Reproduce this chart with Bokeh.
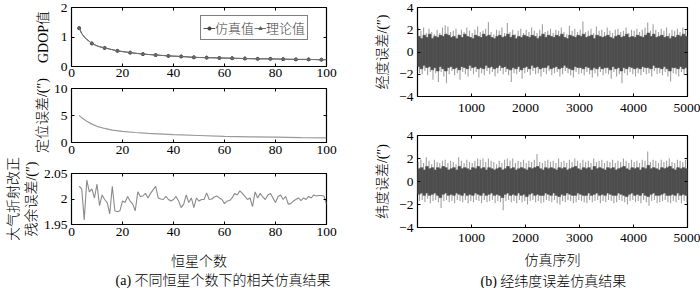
from bokeh.plotting import figure
from bokeh.layouts import row, column
from bokeh.models import (FixedTicker, LinearAxis, Range1d, Legend, LegendItem, Title)
from bokeh.embed import file_html
from bokeh.resources import INLINE

# ---------------- data ----------------
# (a) panel 1: GDOP vs number of stars
gdop_line_n = [3, 4, 5, 6, 7, 8, 9, 10, 11, 12, 13, 15, 18, 23, 28, 33, 38, 43, 48, 53, 58, 63, 68, 73, 78, 83, 88, 93, 98, 100]
gdop_line_v = [1.30, 1.12, 1.00, 0.92, 0.85, 0.78, 0.74, 0.70, 0.67, 0.65, 0.63, 0.59, 0.53, 0.47, 0.42, 0.39, 0.36, 0.34, 0.31, 0.30,
               0.29, 0.28, 0.27, 0.26, 0.26, 0.25, 0.24, 0.24, 0.23, 0.23]
gdop_mark_n = [3, 8, 13, 18, 23, 28, 33, 38, 43, 48, 53, 58, 63, 68, 73, 78, 83, 88, 93, 98]
gdop_sim = [1.30, 0.78, 0.63, 0.53, 0.47, 0.42, 0.39, 0.36, 0.34, 0.31, 0.30, 0.29, 0.28, 0.27, 0.26, 0.26, 0.25, 0.24, 0.24, 0.23]
gdop_theory = [1.30, 0.78, 0.63, 0.53, 0.47, 0.42, 0.39, 0.36, 0.34, 0.31, 0.30, 0.29, 0.28, 0.27, 0.26, 0.26, 0.25, 0.24, 0.24, 0.23]

# (a) panel 2: positioning error
pos_n = [3, 4, 5, 6, 8, 10, 13, 16, 20, 25, 30, 40, 50, 60, 70, 80, 90, 100]
pos_err = [5.0, 4.6, 4.25, 3.95, 3.4, 3.0, 2.6, 2.3, 2.05, 1.85, 1.7, 1.45, 1.3, 1.15, 1.05, 0.98, 0.9, 0.85]

# (a) panel 3: residual refraction error, n = 3..100
ref_n = list(range(3, 101))
ref_err = [2.025, 2.020, 1.959, 2.037, 2.014, 2.020, 2.002, 2.029, 1.987, 2.008,
           1.999, 1.993, 1.971, 2.025, 1.977, 1.975, 1.977, 1.996, 1.993, 2.005,
           1.996, 1.990, 1.977, 2.014, 2.005, 2.006, 2.011, 2.002, 2.011, 2.018,
           2.025, 2.002, 2.000, 1.999, 2.005, 1.999, 1.996, 1.999, 2.005, 1.996,
           1.983, 1.990, 2.008, 1.993, 2.002, 1.983, 2.002, 1.996, 1.999, 1.999,
           2.012, 1.999, 2.000, 2.004, 2.006, 2.002, 1.999, 1.991, 1.996, 1.997,
           2.002, 2.011, 2.008, 2.016, 2.011, 2.005, 1.999, 2.002, 1.985, 2.014,
           2.002, 2.011, 2.004, 1.999, 2.008, 2.011, 2.002, 1.993, 2.005, 2.008,
           1.999, 2.005, 1.990, 1.991, 1.996, 1.999, 2.002, 1.997, 2.002, 1.999,
           2.005, 2.002, 2.008, 2.006, 2.007, 2.007, 2.006, 1.990]

# (b) error envelopes per 50-sample block (peaks = light gray, core = dark gray)
blk_x = list(range(25, 5000, 50))
lon_hi = [2.3, 1.9, 2.2, 1.7, 2.1, 1.8, 1.6, 2.0, 1.7, 2.2,
          2.4, 2.3, 1.8, 1.9, 2.1, 1.6, 2.0, 1.8, 2.2, 1.9,
          1.7, 2.0, 2.3, 1.8, 1.9, 2.1, 2.7, 1.8, 1.6, 2.0,
          1.9, 2.2, 1.7, 2.6, 1.8, 2.0, 1.6, 1.9, 2.1, 1.7,
          2.0, 1.8, 2.2, 1.9, 1.7, 2.0, 2.5, 1.8, 1.9, 2.1,
          1.7, 2.0, 1.9, 2.2, 1.8, 1.6, 2.35, 1.9, 2.1, 1.8,
          2.0, 2.75, 1.8, 1.9, 2.1, 1.7, 2.3, 1.9, 2.0, 1.8,
          2.2, 1.9, 1.7, 2.0, 2.1, 1.8, 1.9, 2.2, 1.7, 2.0,
          1.9, 2.1, 1.8, 2.0, 2.2, 2.65, 1.9, 2.5, 2.0, 1.8,
          2.1, 1.9, 2.2, 1.7, 2.0, 1.9, 2.1, 1.8, 2.2, 2.0]
lon_lo = [-1.9, -2.0, -1.7, -2.1, -1.8, -2.5, -1.9, -2.7, -1.8, -2.2,
          -2.8, -2.0, -1.7, -2.1, -1.9, -2.5, -1.8, -2.0, -2.2, -1.7,
          -2.0, -1.8, -2.3, -1.9, -2.1, -1.7, -2.0, -1.8, -2.2, -1.9,
          -1.7, -2.0, -1.8, -2.1, -2.7, -1.9, -2.0, -1.8, -2.4, -1.9,
          -1.8, -2.1, -1.7, -2.0, -1.9, -2.2, -1.8, -2.0, -1.7, -2.1,
          -1.9, -1.8, -2.2, -2.0, -1.7, -1.9, -2.1, -2.3, -1.8, -2.0,
          -1.9, -2.1, -1.8, -2.0, -2.3, -1.9, -2.2, -1.8, -2.1, -1.9,
          -2.0, -2.4, -1.8, -2.2, -2.0, -2.8, -1.9, -2.1, -1.8, -2.0,
          -2.2, -1.9, -2.1, -1.8, -2.0, -1.9, -2.2, -1.7, -2.0, -1.9,
          -2.1, -1.8, -2.2, -2.65, -1.9, -2.0, -2.2, -1.8, -2.1, -1.9]
lon_core_hi = [1.4, 1.2, 1.5, 1.3, 1.6, 1.2, 1.4, 1.3, 1.5, 1.4,
               1.6, 1.5, 1.3, 1.4, 1.2, 1.5, 1.3, 1.6, 1.4, 1.3,
               1.2, 1.5, 1.4, 1.3, 1.6, 1.4, 1.5, 1.3, 1.2, 1.4,
               1.5, 1.3, 1.4, 1.6, 1.3, 1.5, 1.2, 1.4, 1.3, 1.5,
               1.4, 1.3, 1.5, 1.4, 1.2, 1.4, 1.6, 1.3, 1.5, 1.4,
               1.3, 1.5, 1.4, 1.6, 1.3, 1.2, 1.5, 1.4, 1.3, 1.5,
               1.4, 1.6, 1.3, 1.4, 1.5, 1.2, 1.5, 1.4, 1.3, 1.4,
               1.5, 1.3, 1.2, 1.4, 1.5, 1.3, 1.4, 1.6, 1.3, 1.4,
               1.3, 1.5, 1.4, 1.3, 1.5, 1.7, 1.4, 1.6, 1.3, 1.4,
               1.5, 1.3, 1.4, 1.2, 1.4, 1.3, 1.5, 1.4, 1.6, 1.4]
lon_core_lo = [-1.3, -1.5, -1.2, -1.4, -1.3, -1.6, -1.4, -1.7, -1.3, -1.5,
               -1.7, -1.4, -1.3, -1.5, -1.4, -1.6, -1.3, -1.4, -1.5, -1.2,
               -1.4, -1.3, -1.5, -1.4, -1.5, -1.2, -1.4, -1.3, -1.5, -1.4,
               -1.2, -1.4, -1.3, -1.5, -1.6, -1.4, -1.5, -1.3, -1.6, -1.4,
               -1.3, -1.5, -1.2, -1.4, -1.3, -1.5, -1.4, -1.4, -1.2, -1.5,
               -1.4, -1.3, -1.5, -1.4, -1.2, -1.4, -1.5, -1.6, -1.3, -1.4,
               -1.4, -1.5, -1.3, -1.4, -1.6, -1.4, -1.5, -1.3, -1.5, -1.4,
               -1.4, -1.6, -1.3, -1.5, -1.4, -1.7, -1.4, -1.5, -1.3, -1.4,
               -1.5, -1.4, -1.5, -1.3, -1.4, -1.4, -1.5, -1.2, -1.4, -1.4,
               -1.5, -1.3, -1.5, -1.7, -1.4, -1.4, -1.5, -1.3, -1.5, -1.4]
lat_hi = [1.7, 1.9, 1.6, 2.1, 1.8, 1.5, 1.9, 1.7, 1.6, 1.8,
          1.9, 1.6, 1.8, 1.7, 1.5, 2.1, 1.8, 1.6, 1.9, 1.7,
          1.6, 1.8, 2.0, 1.9, 2.0, 1.7, 2.0, 1.8, 1.7, 1.5,
          1.8, 1.6, 1.9, 2.0, 1.8, 2.0, 1.6, 1.8, 1.7, 1.9,
          1.6, 1.8, 1.7, 1.9, 2.4, 1.7, 1.6, 1.8, 1.9, 1.7,
          1.8, 1.6, 2.0, 1.7, 1.8, 1.6, 1.9, 1.7, 2.0, 1.8,
          1.6, 1.9, 1.7, 1.8, 1.6, 2.0, 1.7, 1.8, 1.9, 1.6,
          1.8, 1.7, 1.9, 1.6, 1.8, 1.7, 2.0, 1.8, 1.6, 1.9,
          1.7, 1.8, 1.6, 1.9, 1.8, 2.6, 1.7, 1.9, 1.8, 1.6,
          1.9, 1.7, 1.8, 2.0, 1.7, 1.6, 1.9, 1.8, 1.7, 1.9]
lat_lo = [-1.7, -1.6, -1.8, -1.5, -1.9, -1.7, -1.6, -1.8, -2.3, -1.7,
          -1.6, -1.8, -1.7, -1.9, -1.6, -1.7, -1.8, -1.6, -1.9, -1.7,
          -1.8, -1.6, -1.7, -1.9, -1.6, -1.8, -1.7, -1.6, -1.9, -1.7,
          -1.8, -2.5, -1.7, -1.6, -1.8, -1.7, -1.9, -1.6, -1.8, -1.7,
          -2.0, -1.7, -1.6, -1.8, -1.7, -1.9, -1.8, -1.6, -1.7, -1.8,
          -1.6, -1.9, -2.0, -1.7, -1.8, -1.6, -1.7, -1.9, -1.8, -1.6,
          -1.7, -1.8, -1.9, -1.6, -1.8, -1.7, -1.6, -1.9, -1.7, -1.8,
          -1.6, -1.7, -1.9, -1.8, -1.6, -1.7, -1.8, -2.0, -1.7, -1.6,
          -1.8, -1.7, -1.9, -1.6, -1.8, -2.1, -1.7, -1.6, -1.9, -1.8,
          -1.7, -1.6, -1.8, -1.9, -1.7, -1.8, -1.6, -1.9, -1.7, -1.8]
lat_core_hi = [1.1, 1.2, 1.0, 1.3, 1.1, 1.2, 1.0, 1.2, 1.1, 1.3,
               1.2, 1.0, 1.1, 1.2, 1.0, 1.3, 1.1, 1.2, 1.1, 1.0,
               1.2, 1.1, 1.3, 1.1, 1.2, 1.0, 1.2, 1.1, 1.0, 1.1,
               1.2, 1.0, 1.1, 1.3, 1.1, 1.2, 1.0, 1.1, 1.2, 1.1,
               1.0, 1.2, 1.1, 1.2, 1.3, 1.1, 1.0, 1.2, 1.1, 1.2,
               1.1, 1.0, 1.2, 1.1, 1.2, 1.0, 1.1, 1.2, 1.3, 1.1,
               1.0, 1.2, 1.1, 1.2, 1.0, 1.3, 1.1, 1.2, 1.1, 1.0,
               1.2, 1.1, 1.2, 1.0, 1.1, 1.2, 1.3, 1.1, 1.0, 1.2,
               1.1, 1.2, 1.0, 1.2, 1.1, 1.4, 1.1, 1.2, 1.1, 1.0,
               1.2, 1.1, 1.2, 1.3, 1.1, 1.0, 1.2, 1.1, 1.2, 1.1]
lat_core_lo = [-1.1, -1.0, -1.2, -1.0, -1.2, -1.1, -1.0, -1.2, -1.4, -1.1,
               -1.0, -1.2, -1.1, -1.2, -1.0, -1.1, -1.2, -1.0, -1.2, -1.1,
               -1.2, -1.0, -1.1, -1.2, -1.0, -1.2, -1.1, -1.0, -1.2, -1.1,
               -1.2, -1.4, -1.1, -1.0, -1.2, -1.1, -1.2, -1.0, -1.2, -1.1,
               -1.3, -1.1, -1.0, -1.2, -1.1, -1.2, -1.2, -1.0, -1.1, -1.2,
               -1.0, -1.2, -1.3, -1.1, -1.2, -1.0, -1.1, -1.2, -1.2, -1.0,
               -1.1, -1.2, -1.2, -1.0, -1.2, -1.1, -1.0, -1.2, -1.1, -1.2,
               -1.0, -1.1, -1.2, -1.2, -1.0, -1.1, -1.2, -1.3, -1.1, -1.0,
               -1.2, -1.1, -1.2, -1.0, -1.2, -1.3, -1.1, -1.0, -1.2, -1.2,
               -1.1, -1.0, -1.2, -1.2, -1.1, -1.2, -1.0, -1.2, -1.1, -1.2]

# tick labels
left_xticks = [0, 20, 40, 60, 80, 100]
p1_yticks = [0, 1, 2]
p2_yticks = [0, 5, 10]
p3_yticks = [1.95, 2.0, 2.05]
p3_ylabels = {1.95: "1.95", 2.0: "2", 2.05: "2.05"}
right_xticks = [1000, 2000, 3000, 4000, 5000]
right_yticks = [-4, -2, 0, 2, 4]
right_ylabels = {-4: "\u22124", -2: "\u22122", 0: "0", 2: "2", 4: "4"}

FONT = "Liberation Serif, Noto Sans CJK SC Light, Noto Sans CJK SC DemiLight, Noto Sans CJK SC"
FS = "13.5px"
LFS = "14px"
DARK = "#4d4d4d"
LIGHT = "#a0a0a0"


def make_fig(w, h, xr, yr, bl, br, bt, bb, margin=None):
    kw = dict(width=w, height=h, x_range=Range1d(*xr), y_range=Range1d(*yr),
              output_backend="svg", toolbar_location=None,
              min_border_left=bl, min_border_right=br,
              min_border_top=bt, min_border_bottom=bb)
    if margin is not None:
        kw["margin"] = margin
    p = figure(**kw)
    p.xgrid.visible = False
    p.ygrid.visible = False
    p.outline_line_color = "black"
    p.outline_line_width = 1.2
    p.outline_line_alpha = 1.0
    p.border_fill_color = None
    p.background_fill_color = "white"
    return p


def blank_axis(ticks, label=None, standoff=0):
    a = LinearAxis(ticker=FixedTicker(ticks=ticks), axis_line_color=None,
                   major_tick_in=3, major_tick_out=0, minor_tick_line_color=None,
                   major_label_text_font_size="0px", major_label_standoff=0,
                   major_label_overrides={t: "" for t in ticks})
    if label:
        a.major_tick_in = 0
        a.axis_label = label
        a.axis_label_standoff = standoff
        a.axis_label_text_font = FONT
        a.axis_label_text_font_size = LFS
        a.axis_label_text_font_style = "normal"
        a.axis_label_text_color = "black"
    return a


def style_axes(p, xt, yt, xlab=None, ylab=None, ylab_over=None, xstand=3,
               xlab_stand=5, ylab_stand=5):
    xa, ya = p.xaxis[0], p.yaxis[0]
    for ax, ticks in ((xa, xt), (ya, yt)):
        ax.ticker = FixedTicker(ticks=ticks)
        ax.axis_line_color = None
        ax.major_tick_in = 3
        ax.major_tick_out = 0
        ax.major_tick_line_color = "black"
        ax.minor_tick_line_color = None
        ax.major_label_text_font = FONT
        ax.major_label_text_font_size = FS
        ax.major_label_text_color = "black"
        ax.axis_label_text_font = FONT
        ax.axis_label_text_font_size = LFS
        ax.axis_label_text_font_style = "normal"
        ax.axis_label_text_color = "black"
    xa.major_label_standoff = xstand
    ya.major_label_standoff = 4
    xa.axis_label_standoff = xlab_stand
    ya.axis_label_standoff = ylab_stand
    if ylab_over:
        ya.major_label_overrides = ylab_over
    if xlab:
        xa.axis_label = xlab
    if ylab:
        ya.axis_label = ylab
    # mirrored ticks on top and right
    p.add_layout(blank_axis(xt), "above")
    p.add_layout(blank_axis(yt), "right")


def caption(p, text, offset, standoff):
    p.add_layout(Title(text=text, align="left", offset=offset,
                       text_font=FONT, text_font_size=LFS, text_font_style="normal",
                       text_color="black", standoff=standoff), "below")


# ---------------- left column ----------------
LW = 340
f1 = make_fig(LW, 84, (0, 100), (0, 2), 71, 14, 7, 18)
style_axes(f1, left_xticks, p1_yticks, ylab="GDOP值", xstand=2, ylab_stand=7)
l1 = f1.line(gdop_line_n, gdop_line_v, line_color="#505050", line_width=1)
m1 = f1.scatter(gdop_mark_n, gdop_sim, marker="circle", size=3, color="#404040")
m2 = f1.scatter(gdop_mark_n, gdop_theory, marker="triangle", size=3, color="#606060")
l2 = f1.line(gdop_line_n, gdop_line_v, line_color="#707070", line_width=1)
leg = Legend(items=[LegendItem(label="仿真值", renderers=[l1, m1]),
                    LegendItem(label="理论值", renderers=[l2, m2])],
             orientation="horizontal", location=(129, 26),
             label_text_font=FONT, label_text_font_size="13px",
             glyph_width=12, glyph_height=8, label_height=10, label_standoff=0,
             spacing=0, padding=2, margin=0,
             border_line_color="black", border_line_width=1,
             background_fill_color="white", background_fill_alpha=1.0)
f1.add_layout(leg, "center")

f2 = make_fig(LW, 82, (0, 100), (0, 10), 71, 14, 10, 18, margin=(-6, 0, 0, 0))
style_axes(f2, left_xticks, p2_yticks, ylab="定位误差/(″)", ylab_stand=1)
f2.line(pos_n, pos_err, line_color="#999999", line_width=1.2)

# canvas starts 8px higher (negative margin) and runs past the page bottom (hidden)
f3 = make_fig(LW, 21 + 51 + 100, (0, 100), (1.95, 2.05), 71, 14, 21, 100, margin=(-8, 0, 0, 0))
style_axes(f3, left_xticks, p3_yticks, xlab="恒星个数", ylab="残余误差/(″)",
           ylab_over=p3_ylabels, xlab_stand=15, ylab_stand=2)
f3.add_layout(blank_axis([], label="大气折射改正", standoff=0), "left")
f3.line(ref_n, ref_err, line_color="#8a8a8a", line_width=1.1)
caption(f3, "(a) 不同恒星个数下的相关仿真结果", 44, -2)

# ---------------- right column ----------------
RW = 700 - LW
f4 = make_fig(RW, 128, (0, 5000), (-4, 4), 77, 13, 7, 32)
style_axes(f4, right_xticks, right_yticks, ylab="经度误差/(″)", ylab_over=right_ylabels,
           xstand=7, ylab_stand=6)
up_x = [x - 12 for x in blk_x]
dn_x = [x + 12 for x in blk_x]
f4.segment(x0=up_x, y0=lon_core_lo, x1=up_x, y1=lon_hi, line_color=LIGHT, line_width=1.1)
f4.segment(x0=dn_x, y0=lon_lo, x1=dn_x, y1=lon_core_hi, line_color=LIGHT, line_width=1.1)
f4.vbar(x=blk_x, width=50, bottom=lon_core_lo, top=lon_core_hi, fill_color=DARK,
        line_color=DARK, line_width=0.6)

f5 = make_fig(RW, 7 + 92 + 100, (0, 5000), (-4, 4), 77, 13, 7, 100)
style_axes(f5, right_xticks, right_yticks, xlab="仿真序列", ylab="纬度误差/(″)",
           ylab_over=right_ylabels, xstand=6, xlab_stand=8, ylab_stand=6)
f5.segment(x0=up_x, y0=lat_core_lo, x1=up_x, y1=lat_hi, line_color=LIGHT, line_width=1.1)
f5.segment(x0=dn_x, y0=lat_lo, x1=dn_x, y1=lat_core_hi, line_color=LIGHT, line_width=1.1)
f5.vbar(x=blk_x, width=50, bottom=lat_core_lo, top=lat_core_hi, fill_color=DARK,
        line_color=DARK, line_width=0.6)
caption(f5, "(b) 经纬度误差仿真结果", 63, 3)

p = row(column(f1, f2, f3), column(f4, f5))

html = file_html(p, INLINE)
html = html.replace("<head>", "<head><style>html,body{margin:0;padding:0;overflow:hidden;}</style>", 1)
open("out.html", "w").write(html)
